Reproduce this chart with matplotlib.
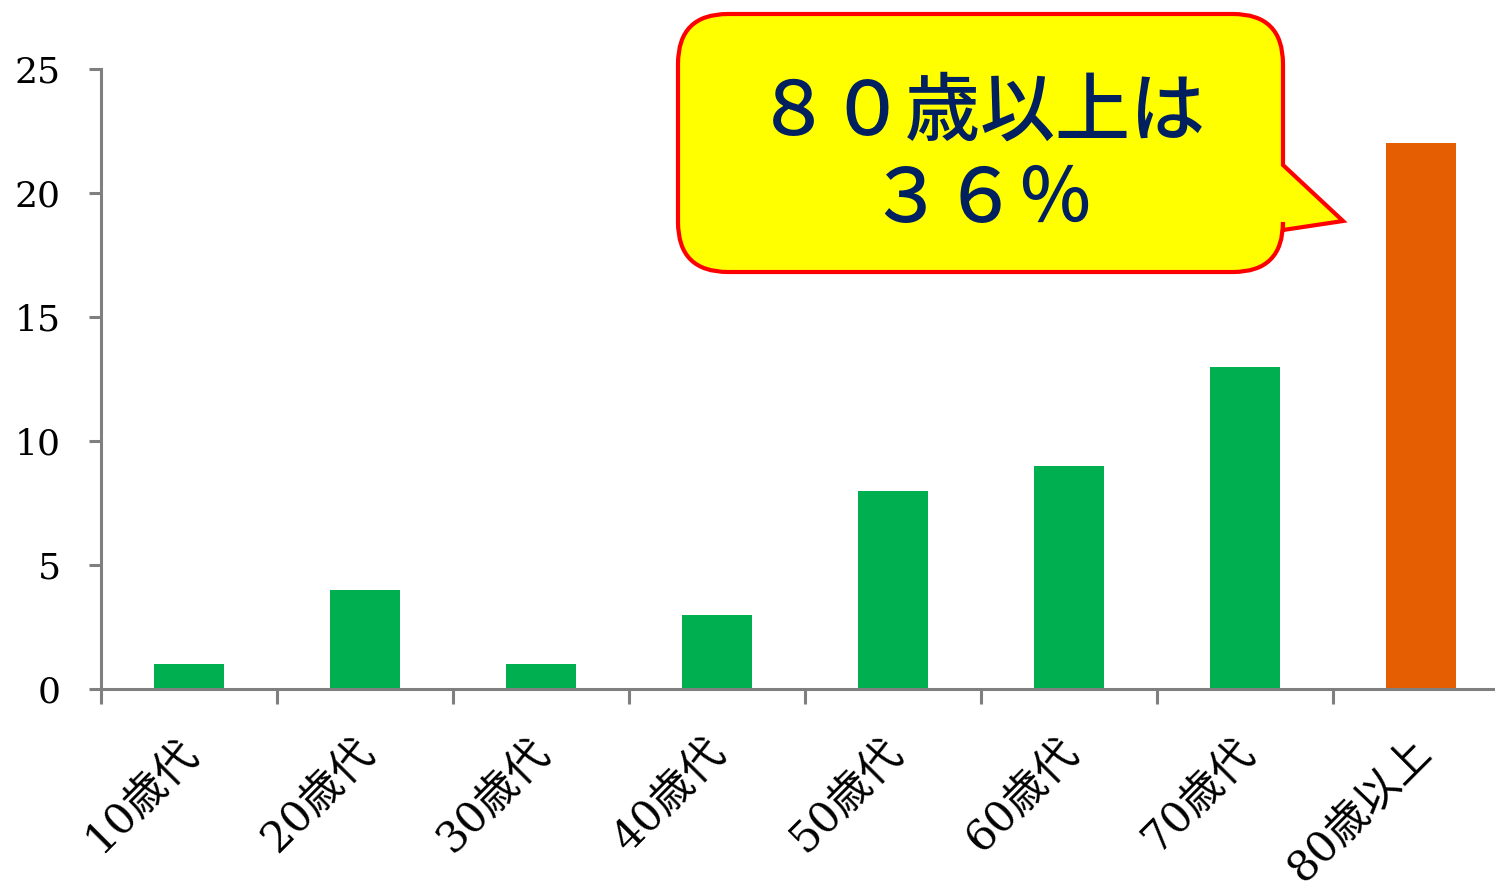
import matplotlib
matplotlib.use('Agg')
import matplotlib.pyplot as plt
import matplotlib.transforms as mtransforms
from matplotlib.path import Path
from matplotlib.patches import PathPatch
import numpy as np

# データ
categories = ['10歳代', '20歳代', '30歳代', '40歳代', '50歳代', '60歳代', '70歳代', '80歳以上']
values = [1, 4, 1, 3, 8, 9, 13, 22]
bar_colors = ['#00B050'] * 7 + ['#E55E02']
y_ticks = [0, 5, 10, 15, 20, 25]
callout_lines = ['８０歳以上は', '３６％']

W, H = 1495, 891
fig = plt.figure(figsize=(W / 100, H / 100), dpi=100)
ax = fig.add_axes([101 / W, 202 / H, 1408 / W, 620 / H])

x = np.arange(len(categories)) + 0.5
ax.bar(x, values, width=0.4, color=bar_colors, zorder=2)

ax.set_xlim(0, len(categories))
ax.set_ylim(0, 25)

# 軸の見た目
axis_gray = '#7F7F7F'
for side in ['top', 'right']:
    ax.spines[side].set_visible(False)
for side in ['left', 'bottom']:
    ax.spines[side].set_color(axis_gray)
    ax.spines[side].set_linewidth(2.2)

ax.set_yticks(y_ticks)
ax.set_yticklabels([str(v) for v in y_ticks], family='DejaVu Serif', fontsize=26)
ax.tick_params(axis='y', direction='out', length=9, width=2.2, color=axis_gray, pad=20)

# 目盛り線は区切り位置、ラベルは中央
ax.set_xticks(np.arange(len(categories) + 1))
ax.set_xticklabels([])
ax.tick_params(axis='x', which='major', direction='out', length=11, width=2.2, color=axis_gray)
ax.set_xticks(x, minor=True)
ax.set_xticklabels(categories, minor=True, rotation=45, ha='right', va='top',
                   rotation_mode='anchor', family=['DejaVu Serif', 'Noto Sans CJK JP'],
                   fontsize=31)
ax.tick_params(axis='x', which='minor', length=0, pad=30)
shift = mtransforms.ScaledTranslation(-12 / 100, 0, fig.dpi_scale_trans)
for lab in ax.get_xticklabels(minor=True):
    lab.set_transform(lab.get_transform() + shift)

# 吹き出し (ピクセル座標、上原点)
x0, x1, y0, y1, r = 678, 1283, 14, 272, 50
tip = (1343, 221)
pts = [
    ((x0 + r, y0), Path.MOVETO),
    ((x1 - r, y0), Path.LINETO),
    ((x1, y0), Path.CURVE3), ((x1, y0 + r), Path.CURVE3),
    ((x1, 165), Path.LINETO),
    (tip, Path.LINETO),
    ((x1, 230), Path.LINETO),
    ((x1, y1 - r), Path.LINETO),
    ((x1, y1), Path.CURVE3), ((x1 - r, y1), Path.CURVE3),
    ((x0 + r, y1), Path.LINETO),
    ((x0, y1), Path.CURVE3), ((x0, y1 - r), Path.CURVE3),
    ((x0, y0 + r), Path.LINETO),
    ((x0, y0), Path.CURVE3), ((x0 + r, y0), Path.CURVE3),
    ((x0 + r, y0), Path.CLOSEPOLY),
]
verts = [(px / W, (H - py) / H) for (px, py), _ in pts]
codes = [c for _, c in pts]
callout = PathPatch(Path(verts, codes), facecolor='#FFFF00', edgecolor='#FF0000',
                    linewidth=3, transform=fig.transFigure, zorder=5)
fig.patches.append(callout)

fig.text(981 / W, (H - 135) / H, callout_lines[0], family='Noto Sans CJK JP',
         fontsize=54, weight='medium', color='#002060', ha='center', va='baseline', zorder=6)
fig.text(981 / W, (H - 222) / H, callout_lines[1], family='Noto Sans CJK JP',
         fontsize=54, weight='medium', color='#002060', ha='center', va='baseline', zorder=6)

fig.savefig('out.png', dpi=100)
